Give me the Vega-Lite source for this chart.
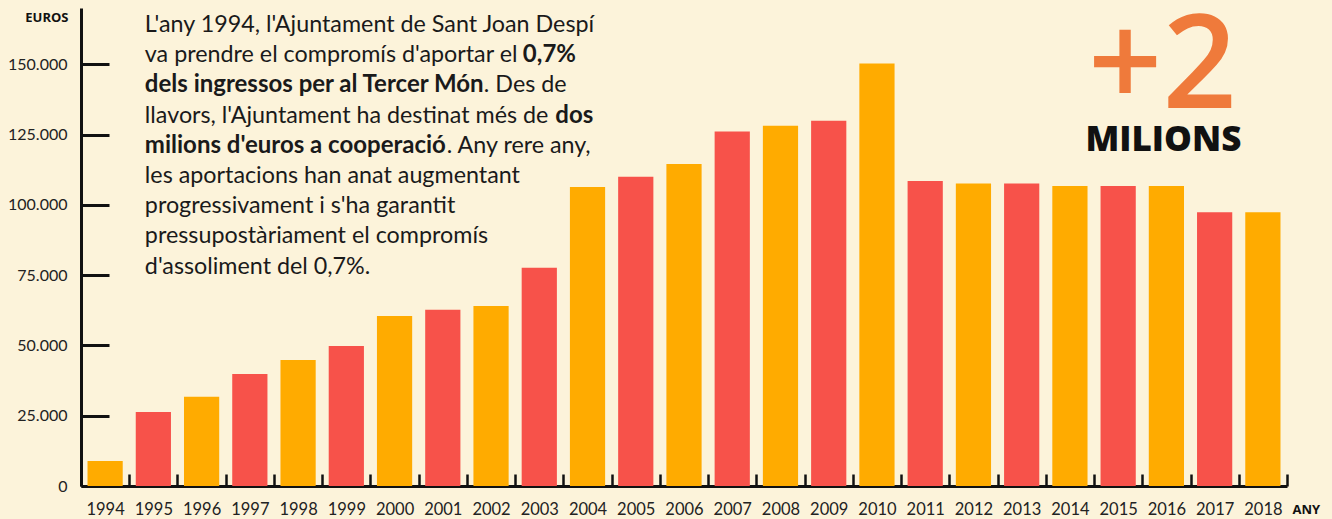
{
  "$schema": "https://vega.github.io/schema/vega-lite/v6.json",
  "width": 1206,
  "height": 478,
  "autosize": {"type": "none"},
  "padding": {"left": 81, "top": 8, "right": 45, "bottom": 33},
  "background": "#fcf3da",
  "config": {"view": {"stroke": null}, "font": "Lato"},
  "datasets": {
    "aportacions": [
      {"any": 1994, "euros": 8900},
      {"any": 1995, "euros": 26300},
      {"any": 1996, "euros": 31700},
      {"any": 1997, "euros": 39800},
      {"any": 1998, "euros": 44800},
      {"any": 1999, "euros": 49800},
      {"any": 2000, "euros": 60500},
      {"any": 2001, "euros": 62700},
      {"any": 2002, "euros": 64000},
      {"any": 2003, "euros": 77600},
      {"any": 2004, "euros": 106300},
      {"any": 2005, "euros": 110000},
      {"any": 2006, "euros": 114500},
      {"any": 2007, "euros": 126100},
      {"any": 2008, "euros": 128100},
      {"any": 2009, "euros": 129900},
      {"any": 2010, "euros": 150300},
      {"any": 2011, "euros": 108500},
      {"any": 2012, "euros": 107600},
      {"any": 2013, "euros": 107600},
      {"any": 2014, "euros": 106700},
      {"any": 2015, "euros": 106700},
      {"any": 2016, "euros": 106700},
      {"any": 2017, "euros": 97400},
      {"any": 2018, "euros": 97400}
    ]
  },
  "layer": [
    {
      "data": {"name": "aportacions"},
      "mark": {"type": "bar", "width": {"band": 0.73}},
      "encoding": {
        "x": {
          "field": "any",
          "type": "ordinal",
          "scale": {"paddingInner": 0, "paddingOuter": 0},
          "axis": {
            "tickBand": "extent",
            "tickSize": -12,
            "tickWidth": 2.5,
            "tickColor": "#111111",
            "domainColor": "#111111",
            "domainWidth": 3,
            "labelAngle": 0,
            "labelFont": "Lato",
            "labelFontSize": 16.5,
            "labelColor": "#222222",
            "labelPadding": 27,
            "title": "ANY",
            "titleX": 1211,
            "titleY": 23,
            "titleAlign": "left",
            "titleBaseline": "middle",
            "titleFontSize": 13,
            "titleFontWeight": "bold",
            "titleColor": "#111111",
            "titleFont": "Open Sans"
          }
        },
        "y": {
          "field": "euros",
          "type": "quantitative",
          "scale": {"domain": [0, 170000], "nice": false},
          "axis": {
            "values": [0, 25000, 50000, 75000, 100000, 125000, 150000],
            "labelExpr": "replace(format(datum.value, ','), ',', '.')",
            "grid": false,
            "domainColor": "#111111",
            "domainWidth": 3,
            "tickColor": "#111111",
            "tickWidth": 3,
            "tickSize": -28,
            "labelPadding": 42,
            "labelFont": "Lato",
            "labelFontSize": 16,
            "labelColor": "#222222",
            "title": "EUROS",
            "titleAngle": 0,
            "titleAlign": "right",
            "titleBaseline": "middle",
            "titleX": -13,
            "titleY": 9,
            "titleFontSize": 13,
            "titleFontWeight": "bold",
            "titleColor": "#111111",
            "titleFont": "Open Sans"
          }
        },
        "color": {
          "condition": {"test": "datum.any % 2 == 0", "value": "#ffab00"},
          "value": "#f7524a"
        }
      }
    },
    {
      "data": {"values": [{"t": "L'any 1994, l'Ajuntament de Sant Joan Despí\nva prendre el compromís d'aportar el"}]},
      "mark": {"type": "text", "align": "left", "baseline": "alphabetic", "lineBreak": "\n", "lineHeight": 30.2, "font": "Lato", "fontSize": 23.3, "color": "#1a1a1a", "dx": -8.5, "dy": 24},
      "encoding": {"text": {"field": "t"}, "x": {"datum": 1995, "type": "ordinal"}, "y": {"datum": 170000, "type": "quantitative"}}
    },
    {
      "data": {"values": [{"t": "0,7%"}]},
      "mark": {"type": "text", "align": "left", "baseline": "alphabetic", "font": "Lato", "fontSize": 24, "fontWeight": "bold", "color": "#1a1a1a", "dx": 369.5, "dy": 54.2},
      "encoding": {"text": {"field": "t"}, "x": {"datum": 1995, "type": "ordinal"}, "y": {"datum": 170000, "type": "quantitative"}}
    },
    {
      "data": {"values": [{"t": "dels ingressos per al Tercer Món"}]},
      "mark": {"type": "text", "align": "left", "baseline": "alphabetic", "font": "Lato", "fontSize": 24, "fontWeight": "bold", "color": "#1a1a1a", "dx": -8.5, "dy": 84.4},
      "encoding": {"text": {"field": "t"}, "x": {"datum": 1995, "type": "ordinal"}, "y": {"datum": 170000, "type": "quantitative"}}
    },
    {
      "data": {"values": [{"t": ". Des de"}]},
      "mark": {"type": "text", "align": "left", "baseline": "alphabetic", "font": "Lato", "fontSize": 23.3, "color": "#1a1a1a", "dx": 330.5, "dy": 84.4},
      "encoding": {"text": {"field": "t"}, "x": {"datum": 1995, "type": "ordinal"}, "y": {"datum": 170000, "type": "quantitative"}}
    },
    {
      "data": {"values": [{"t": "llavors, l'Ajuntament ha destinat més de"}]},
      "mark": {"type": "text", "align": "left", "baseline": "alphabetic", "font": "Lato", "fontSize": 23.3, "color": "#1a1a1a", "dx": -8.5, "dy": 114.6},
      "encoding": {"text": {"field": "t"}, "x": {"datum": 1995, "type": "ordinal"}, "y": {"datum": 170000, "type": "quantitative"}}
    },
    {
      "data": {"values": [{"t": "dos"}]},
      "mark": {"type": "text", "align": "left", "baseline": "alphabetic", "font": "Lato", "fontSize": 24, "fontWeight": "bold", "color": "#1a1a1a", "dx": 402, "dy": 114.6},
      "encoding": {"text": {"field": "t"}, "x": {"datum": 1995, "type": "ordinal"}, "y": {"datum": 170000, "type": "quantitative"}}
    },
    {
      "data": {"values": [{"t": "milions d'euros a cooperació"}]},
      "mark": {"type": "text", "align": "left", "baseline": "alphabetic", "font": "Lato", "fontSize": 24, "fontWeight": "bold", "color": "#1a1a1a", "dx": -8.5, "dy": 144.8},
      "encoding": {"text": {"field": "t"}, "x": {"datum": 1995, "type": "ordinal"}, "y": {"datum": 170000, "type": "quantitative"}}
    },
    {
      "data": {"values": [{"t": ". Any rere any,"}]},
      "mark": {"type": "text", "align": "left", "baseline": "alphabetic", "font": "Lato", "fontSize": 23.3, "color": "#1a1a1a", "dx": 293.5, "dy": 144.8},
      "encoding": {"text": {"field": "t"}, "x": {"datum": 1995, "type": "ordinal"}, "y": {"datum": 170000, "type": "quantitative"}}
    },
    {
      "data": {"values": [{"t": "les aportacions han anat augmentant\nprogressivament i s'ha garantit\npressupostàriament el compromís\nd'assoliment del 0,7%."}]},
      "mark": {"type": "text", "align": "left", "baseline": "alphabetic", "lineBreak": "\n", "lineHeight": 30.2, "font": "Lato", "fontSize": 23.3, "color": "#1a1a1a", "dx": -8.5, "dy": 175},
      "encoding": {"text": {"field": "t"}, "x": {"datum": 1995, "type": "ordinal"}, "y": {"datum": 170000, "type": "quantitative"}}
    },
    {
      "data": {"values": [{"t": "+2"}]},
      "mark": {"type": "text", "align": "center", "baseline": "alphabetic", "font": "Open Sans", "fontSize": 130, "fontWeight": 600, "color": "#ef7a3b", "dx": -4, "dy": 100},
      "encoding": {"text": {"field": "t"}, "x": {"datum": 2016, "type": "ordinal"}, "y": {"datum": 170000, "type": "quantitative"}}
    },
    {
      "data": {"values": [{"t": "MILIONS"}]},
      "mark": {"type": "text", "align": "center", "baseline": "alphabetic", "font": "Open Sans", "fontSize": 35, "fontWeight": 800, "color": "#111111", "dx": -3, "dy": 143},
      "encoding": {"text": {"field": "t"}, "x": {"datum": 2016, "type": "ordinal"}, "y": {"datum": 170000, "type": "quantitative"}}
    }
  ]
}
